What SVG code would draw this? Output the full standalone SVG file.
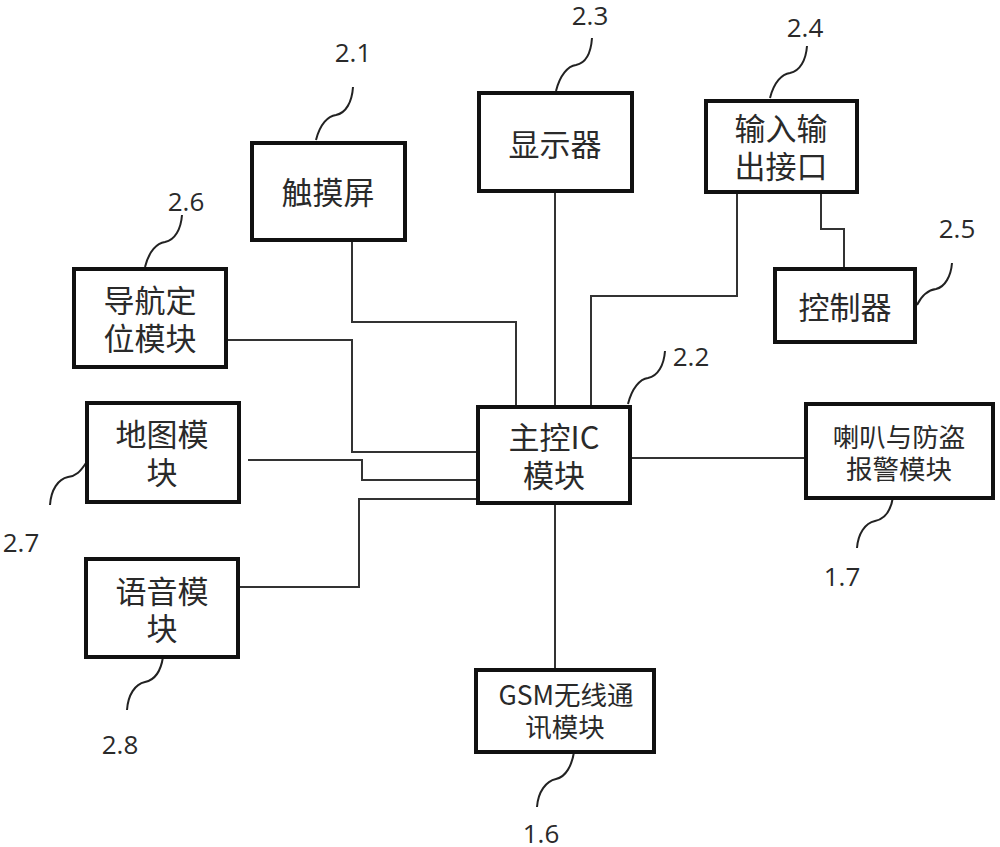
<svg xmlns="http://www.w3.org/2000/svg" width="1000" height="847" viewBox="0 0 1000 847">
<style>
.b{fill:#fff;stroke:#111;stroke-width:4}
.l{fill:none;stroke:#333;stroke-width:2}
.s{fill:none;stroke:#222;stroke-width:2}
text{font-family:"Noto Sans CJK SC","Liberation Sans",sans-serif;fill:#2a2a2a;font-size:31px;text-anchor:middle}
.n{font-family:"Open Sans","Liberation Sans",sans-serif;font-size:26px}
.m{font-size:26.5px}
</style>
<rect width="1000" height="847" fill="#fff"/>
<g id="connectors">
<path class="l" d="M352 240V322H516V407"/>
<path class="l" d="M555 191V407"/>
<path class="l" d="M737 192V296H591V407"/>
<path class="l" d="M821 192V229H844V269"/>
<path class="l" d="M228 340H352V452H478"/>
<path class="l" d="M248 460H362V480H478"/>
<path class="l" d="M238 587H359V499H478"/>
<path class="l" d="M632 458H806"/>
<path class="l" d="M555 503V670"/>
<path class="s" d="M316 140C320 124 328 116 336 115C346 113 352 102 353 87"/>
<path class="s" d="M556 91C560 75 568 66 576 65C586 63 591 52 592 38"/>
<path class="s" d="M770 98C774 82 782 74 790 73C800 71 806 60 807 46"/>
<path class="s" d="M917 305C922 295 928 290 936 289C945 287 951 276 952 263"/>
<path class="s" d="M145 267C149 251 157 243 165 242C175 240 181 229 182 215"/>
<path class="s" d="M628 404C632 388 640 379 648 378C658 376 664 365 665 351"/>
<path class="s" d="M86 463C80 472 76 476 68 477C58 479 51 490 50 505"/>
<path class="s" d="M163 657C161 670 155 680 145 682C135 684 128 695 127 710"/>
<path class="s" d="M893 497C891 510 885 519 875 521C865 523 858 534 857 548"/>
<path class="s" d="M574 752C572 765 566 777 556 779C546 781 538 792 537 807"/>
</g>
<g id="n21"><rect class="b" x="252" y="143" width="153" height="97"/><text x="328" y="204">触摸屏</text></g>
<g id="n23"><rect class="b" x="479" y="93" width="153" height="98"/><text x="555" y="156">显示器</text></g>
<g id="n24"><rect class="b" x="706" y="101" width="151" height="91"/><text x="781" y="140">输入输</text><text x="781" y="178">出接口</text></g>
<g id="n25"><rect class="b" x="775" y="269" width="140" height="73"/><text x="845" y="319">控制器</text></g>
<g id="n26"><rect class="b" x="74" y="269" width="152" height="98"/><text x="150" y="312">导航定</text><text x="150" y="350">位模块</text></g>
<g id="n27"><rect class="b" x="87" y="403" width="152" height="99"/><text x="162" y="446">地图模</text><text x="162" y="484">块</text></g>
<g id="n28"><rect class="b" x="86" y="559" width="152" height="98"/><text x="162" y="603">语音模</text><text x="162" y="640">块</text></g>
<g id="n22"><rect class="b" x="478" y="407" width="152" height="96"/><text x="554" y="449">主控IC</text><text x="554" y="487">模块</text></g>
<g id="n17"><rect class="b" x="806" y="404" width="187" height="94"/><text class="m" x="899" y="447">喇叭与防盗</text><text class="m" x="899" y="479">报警模块</text></g>
<g id="n16"><rect class="b" x="476" y="670" width="178" height="82"/><text class="m" x="566" y="705">GSM无线通</text><text class="m" x="565" y="737">讯模块</text></g>
<g id="labels">
<text class="n" x="353" y="62">2.1</text>
<text class="n" x="590" y="25">2.3</text>
<text class="n" x="805" y="37">2.4</text>
<text class="n" x="957" y="238">2.5</text>
<text class="n" x="186" y="211">2.6</text>
<text class="n" x="691" y="366">2.2</text>
<text class="n" x="21" y="552">2.7</text>
<text class="n" x="120" y="754">2.8</text>
<text class="n" x="842" y="586">1.7</text>
<text class="n" x="541" y="843">1.6</text>
</g>
</svg>
